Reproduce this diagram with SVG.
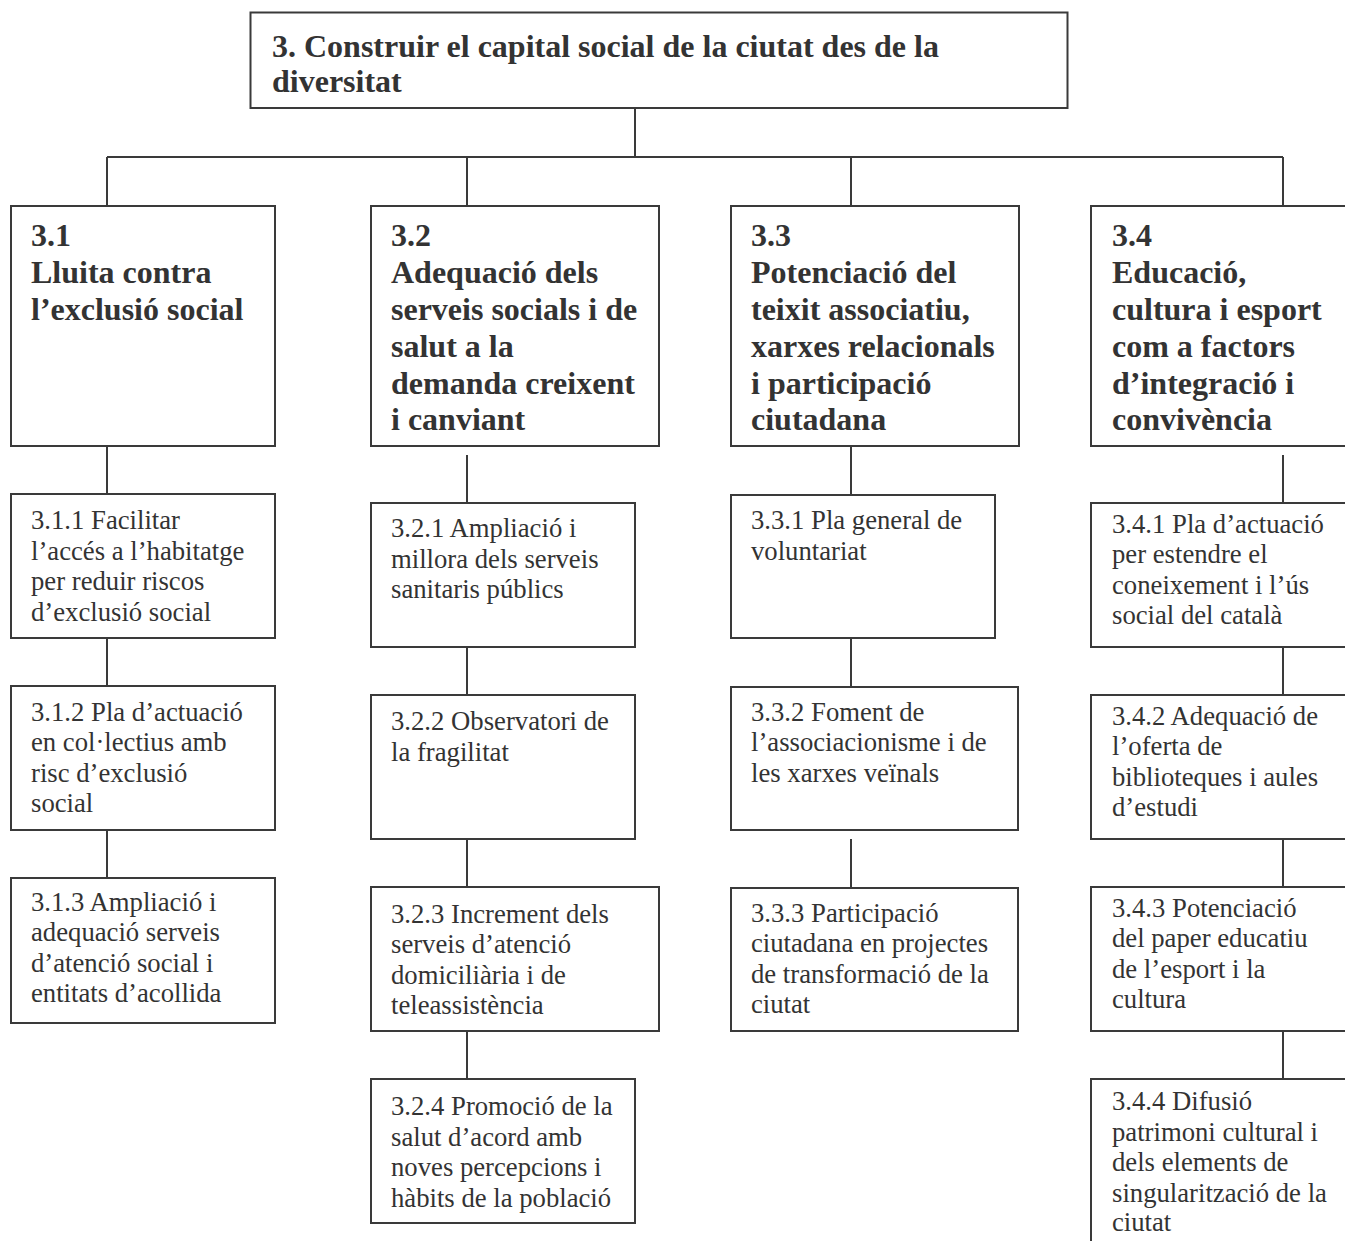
<svg xmlns="http://www.w3.org/2000/svg" width="1345" height="1241" viewBox="0 0 1345 1241">
<style>
rect.b{fill:#fff;stroke:#3a3a3a;stroke-width:2}
.h{font-family:"Liberation Serif","Times New Roman",serif;font-weight:bold;font-size:32px;fill:#333}
.t{font-family:"Liberation Serif","Times New Roman",serif;font-size:26.7px;fill:#333}
#connectors path{fill:none;stroke:#3a3a3a;stroke-width:2}
</style>
<rect width="1345" height="1241" fill="#fff"/>
<g id="connectors">
<path d="M635 108V157M107 157H1283M107 157V206M467 157V206M851 157V206M1283 157V206"/>
<path d="M107 446V494M107 638V686M107 830V878"/>
<path d="M467 455V503M467 647V695M467 839V887M467 1031V1079"/>
<path d="M851 446V495M851 638V687M851 839V888"/>
<path d="M1283 455V503M1283 647V695M1283 839V887M1283 1031V1079"/>
</g>
<g id="n3">
<rect class="b" x="250.5" y="12.5" width="817" height="95.5"/>
<text class="h" x="272" y="56.5">3. Construir el capital social de la ciutat des de la</text>
<text class="h" x="272" y="92">diversitat</text>
</g>
<g id="n3_1">
<rect class="b" x="11" y="206" width="264" height="240"/>
<text class="h" x="31"><tspan x="31" y="246">3.1</tspan><tspan x="31" y="283">Lluita contra</tspan><tspan x="31" y="320">l’exclusió social</tspan></text>
</g>
<g id="n3_2">
<rect class="b" x="371" y="206" width="288" height="240"/>
<text class="h"><tspan x="391" y="246">3.2</tspan><tspan x="391" y="283">Adequació dels</tspan><tspan x="391" y="320">serveis socials i de</tspan><tspan x="391" y="357">salut a la</tspan><tspan x="391" y="393.5">demanda creixent</tspan><tspan x="391" y="430">i canviant</tspan></text>
</g>
<g id="n3_3">
<rect class="b" x="731" y="206" width="288" height="240"/>
<text class="h"><tspan x="751" y="246">3.3</tspan><tspan x="751" y="283">Potenciació del</tspan><tspan x="751" y="320">teixit associatiu,</tspan><tspan x="751" y="357">xarxes relacionals</tspan><tspan x="751" y="393.5">i participació</tspan><tspan x="751" y="430">ciutadana</tspan></text>
</g>
<g id="n3_4">
<rect class="b" x="1091" y="206" width="300" height="240"/>
<text class="h"><tspan x="1112" y="246">3.4</tspan><tspan x="1112" y="283">Educació,</tspan><tspan x="1112" y="320">cultura i esport</tspan><tspan x="1112" y="357">com a factors</tspan><tspan x="1112" y="393.5">d’integració i</tspan><tspan x="1112" y="430">convivència</tspan></text>
</g>
<g id="n3_1_1">
<rect class="b" x="11" y="494" width="264" height="144"/>
<text class="t"><tspan x="31" y="529">3.1.1 Facilitar</tspan><tspan x="31" y="559.5">l’accés a l’habitatge</tspan><tspan x="31" y="590">per reduir riscos</tspan><tspan x="31" y="620.5">d’exclusió social</tspan></text>
</g>
<g id="n3_1_2">
<rect class="b" x="11" y="686" width="264" height="144"/>
<text class="t"><tspan x="31" y="720.5">3.1.2 Pla d’actuació</tspan><tspan x="31" y="751">en col·lectius amb</tspan><tspan x="31" y="781.5">risc d’exclusió</tspan><tspan x="31" y="812">social</tspan></text>
</g>
<g id="n3_1_3">
<rect class="b" x="11" y="878" width="264" height="145"/>
<text class="t"><tspan x="31" y="910.5">3.1.3 Ampliació i</tspan><tspan x="31" y="941">adequació serveis</tspan><tspan x="31" y="971.5">d’atenció social i</tspan><tspan x="31" y="1002">entitats d’acollida</tspan></text>
</g>
<g id="n3_2_1">
<rect class="b" x="371" y="503" width="264" height="144"/>
<text class="t"><tspan x="391" y="537">3.2.1 Ampliació i</tspan><tspan x="391" y="567.5">millora dels serveis</tspan><tspan x="391" y="598">sanitaris públics</tspan></text>
</g>
<g id="n3_2_2">
<rect class="b" x="371" y="695" width="264" height="144"/>
<text class="t"><tspan x="391" y="730">3.2.2 Observatori de</tspan><tspan x="391" y="760.5">la fragilitat</tspan></text>
</g>
<g id="n3_2_3">
<rect class="b" x="371" y="887" width="288" height="144"/>
<text class="t"><tspan x="391" y="922.5">3.2.3 Increment dels</tspan><tspan x="391" y="953">serveis d’atenció</tspan><tspan x="391" y="983.5">domiciliària i de</tspan><tspan x="391" y="1014">teleassistència</tspan></text>
</g>
<g id="n3_2_4">
<rect class="b" x="371" y="1079" width="264" height="144"/>
<text class="t"><tspan x="391" y="1115">3.2.4 Promoció de la</tspan><tspan x="391" y="1145.5">salut d’acord amb</tspan><tspan x="391" y="1176">noves percepcions i</tspan><tspan x="391" y="1206.5">hàbits de la població</tspan></text>
</g>
<g id="n3_3_1">
<rect class="b" x="731" y="495" width="264" height="143"/>
<text class="t"><tspan x="751" y="529">3.3.1 Pla general de</tspan><tspan x="751" y="559.5">voluntariat</tspan></text>
</g>
<g id="n3_3_2">
<rect class="b" x="731" y="687" width="287" height="143"/>
<text class="t"><tspan x="751" y="720.5">3.3.2 Foment de</tspan><tspan x="751" y="751">l’associacionisme i de</tspan><tspan x="751" y="781.5">les xarxes veïnals</tspan></text>
</g>
<g id="n3_3_3">
<rect class="b" x="731" y="888" width="287" height="143"/>
<text class="t"><tspan x="751" y="921.5">3.3.3 Participació</tspan><tspan x="751" y="952">ciutadana en projectes</tspan><tspan x="751" y="982.5">de transformació de la</tspan><tspan x="751" y="1013">ciutat</tspan></text>
</g>
<g id="n3_4_1">
<rect class="b" x="1091" y="503" width="300" height="144"/>
<text class="t"><tspan x="1112" y="532.5">3.4.1 Pla d’actuació</tspan><tspan x="1112" y="563">per estendre el</tspan><tspan x="1112" y="593.5">coneixement i l’ús</tspan><tspan x="1112" y="624">social del català</tspan></text>
</g>
<g id="n3_4_2">
<rect class="b" x="1091" y="695" width="300" height="144"/>
<text class="t"><tspan x="1112" y="724.5">3.4.2 Adequació de</tspan><tspan x="1112" y="755">l’oferta de</tspan><tspan x="1112" y="785.5">biblioteques i aules</tspan><tspan x="1112" y="816">d’estudi</tspan></text>
</g>
<g id="n3_4_3">
<rect class="b" x="1091" y="887" width="300" height="144"/>
<text class="t"><tspan x="1112" y="916.5">3.4.3 Potenciació</tspan><tspan x="1112" y="947">del paper educatiu</tspan><tspan x="1112" y="977.5">de l’esport i la</tspan><tspan x="1112" y="1008">cultura</tspan></text>
</g>
<g id="n3_4_4">
<rect class="b" x="1091" y="1079" width="300" height="200"/>
<text class="t"><tspan x="1112" y="1110">3.4.4 Difusió</tspan><tspan x="1112" y="1140.5">patrimoni cultural i</tspan><tspan x="1112" y="1171">dels elements de</tspan><tspan x="1112" y="1201.5">singularització de la</tspan><tspan x="1112" y="1231">ciutat</tspan></text>
</g>
</svg>
